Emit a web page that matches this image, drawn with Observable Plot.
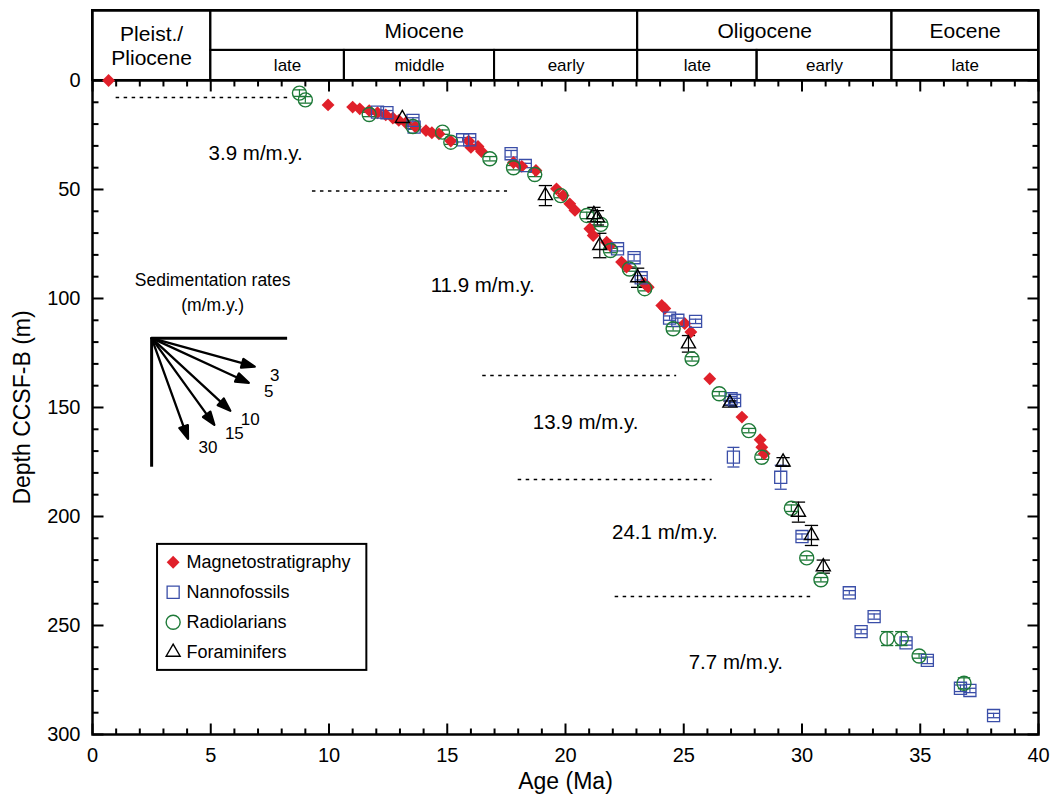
<!DOCTYPE html>
<html>
<head>
<meta charset="utf-8">
<script src="https://cdn.jsdelivr.net/npm/d3@7"></script>
<script src="https://cdn.jsdelivr.net/npm/@observablehq/plot@0.6"></script>
<style>
  body { margin: 0; background: #fff; }
</style>
</head>
<body>
<div id="chart"></div>
<script>
// ---------------- DATA ----------------
// Magnetostratigraphy (age Ma, depth m)
const magAge   = [0.68, 9.96, 11.0, 11.3, 11.7, 12.05, 12.4, 12.7, 12.95, 13.25, 13.65, 14.1, 14.35, 14.65, 15.15, 15.9, 16.0, 16.3, 16.45, 17.8, 18.15, 18.75, 19.62, 19.9, 20.18, 20.4, 21.03, 21.17, 21.74, 21.88, 22.37, 22.58, 23.34, 23.5, 24.07, 24.2, 25.04, 25.3, 26.1, 27.46, 28.23, 28.3, 28.4];
const magDepth = [0, 11.2, 12.2, 13.0, 13.8, 14.8, 15.8, 17.2, 18.3, 19.4, 21.2, 23.0, 24.0, 24.5, 27.8, 27.8, 30.7, 30.3, 32.6, 37.6, 39.4, 41.3, 49.7, 52.8, 56.6, 59.6, 68.0, 71.1, 74.2, 75.7, 83.3, 85.6, 93.1, 94.8, 103.2, 104.6, 111.5, 115.4, 136.8, 154.4, 164.8, 168.2, 171.2];

// Nannofossils (age, depth, depth error)
const nanAge   = [12.05, 12.45, 13.55, 13.6, 15.65, 15.95, 17.7, 18.3, 22.2, 22.9, 23.2, 24.4, 24.75, 25.5, 27.0, 27.15, 27.1, 29.1, 30.0, 32.0, 32.5, 33.05, 34.4, 35.3, 36.7, 37.1, 38.1];
const nanDepth = [14.5, 14.8, 18.3, 21.4, 27.2, 27.2, 33.6, 39.0, 77.2, 81.3, 90.5, 109.0, 110.0, 110.5, 146.0, 146.8, 172.8, 182.0, 209.2, 235.0, 252.8, 245.9, 258.0, 266.0, 278.8, 279.8, 291.3];
const nanErr   = [1, 1, 1.2, 1, 1, 1, 1.5, 1, 1, 1.5, 1, 1, 1, 1, 1, 1, 4.5, 5.5, 1.2, 1, 1, 1.2, 1, 1.5, 1.5, 1, 1];

// Radiolarians
const radAge   = [8.75, 9.0, 11.7, 13.55, 14.8, 15.15, 16.8, 17.8, 18.7, 19.8, 20.9, 21.5, 21.9, 22.7, 23.35, 24.55, 25.35, 26.5, 27.75, 28.3, 29.55, 30.2, 30.8, 33.6, 34.2, 34.95, 36.85];
const radDepth = [5.8, 8.9, 15.6, 21.1, 23.7, 28.3, 35.9, 40.0, 43.1, 52.8, 61.9, 66.0, 78.0, 86.5, 95.5, 113.9, 127.7, 143.7, 160.6, 172.8, 196.2, 219.0, 229.0, 256.0, 256.0, 264.0, 276.5];
const radErr   = [1.5, 1.5, 1, 1, 1, 1, 1, 1, 1, 1, 1.5, 1, 1, 1, 1, 1, 1, 1, 1, 1, 1.5, 1, 1, 3.2, 3.2, 1, 2.5];

// Foraminifers
const forAge   = [13.1, 19.15, 21.2, 21.35, 21.45, 23.05, 25.2, 26.95, 29.2, 29.85, 30.4, 30.9];
const forDepth = [17.4, 52.8, 61.5, 63.0, 75.7, 90.5, 120.8, 148.0, 175.0, 198.0, 208.7, 223.0];
const forErr   = [0, 4.6, 3.3, 3.3, 5.6, 4.4, 3.8, 1, 2, 4.6, 4.6, 3];

// Sedimentation-rate segments (dashed) and labels
const segDepth = [7.8, 50.7, 135.3, 183.0, 236.7];
const segStart = [1.0, 9.3, 16.5, 18.0, 22.1];
const segEnd   = [8.4, 17.55, 24.7, 26.2, 30.4];
const rateText  = ["3.9 m/m.y.", "11.9 m/m.y.", "13.9 m/m.y.", "24.1 m/m.y.", "7.7 m/m.y."];
const rateAge   = [6.9, 16.5, 20.85, 24.2, 27.2];
const rateDepth = [33.5, 94.0, 156.9, 207.3, 267.0];

// Inset rates (m/m.y.)
const insetRates = [3, 5, 10, 15, 30];

// Time scale header
const epochNames = ["Pleist./\nPliocene", "Miocene", "Oligocene", "Eocene"];
const epochStart = [0, 5.0, 23.05, 33.8];
const epochEnd   = [5.0, 23.05, 33.8, 40];
const subNames = ["late", "middle", "early", "late", "early", "late"];
const subStart = [5.0, 10.65, 17.0, 23.05, 28.1, 33.8];
const subEnd   = [10.65, 17.0, 23.05, 28.1, 33.8, 40];

// Axes
const xTicks = [0, 5, 10, 15, 20, 25, 30, 35, 40];
const yTicks = [0, 50, 100, 150, 200, 250, 300];
const legendLabels = ["Magnetostratigraphy", "Nannofossils", "Radiolarians", "Foraminifers"];

// ---------------- LAYOUT ----------------
const W = 1050, H = 803;
const mTop = 10, mLeft = 92, mRight = 12, mBottom = 69;
const yMin = -32.1;       // header band above depth 0
const rowSplit = -13.8;   // header row divider
const kx = (W - mLeft - mRight) / 40;          // px per Ma
const ky = (H - mTop - mBottom) / (300 - yMin); // px per m

const mag = magAge.map((a, i) => ({age: a, depth: magDepth[i]}));
const nan = nanAge.map((a, i) => ({age: a, depth: nanDepth[i], err: nanErr[i]}));
const rad = radAge.map((a, i) => ({age: a, depth: radDepth[i], err: radErr[i]}));
const frm = forAge.map((a, i) => ({age: a, depth: forDepth[i], err: forErr[i]}));
const segs = segDepth.map((d, i) => ({depth: d, a1: segStart[i], a2: segEnd[i]}));
const rates = rateText.map((t, i) => ({t, age: rateAge[i], depth: rateDepth[i]}));
const epochs = epochNames.map((n, i) => ({name: n, start: epochStart[i], end: epochEnd[i]}));
const subs = subNames.map((n, i) => ({name: n, start: subStart[i], end: subEnd[i]}));

const RED = "#e0202a", BLUE = "#3a4ea8", GREEN = "#1e7a38", BLACK = "#000";
const series = [
  {key: "mag", symbol: "diamond2", r: 5.8, fill: RED, stroke: "none", sw: 0},
  {key: "nan", symbol: "square", r: 6.8, fill: "none", stroke: BLUE, sw: 1.3},
  {key: "rad", symbol: "circle", r: 7, fill: "none", stroke: GREEN, sw: 1.4},
  {key: "for", symbol: "triangle", r: 5.2, fill: "none", stroke: BLACK, sw: 1.4}
];

// custom shapes
const tickLine = {draw(ctx, l) { ctx.moveTo(0, 0); ctx.lineTo(0, -l); }};
const arrowShape = {draw(ctx, l) {
  const h = 13, w = 4.5;
  ctx.moveTo(0, 0); ctx.lineTo(0, -(l - h));
  ctx.moveTo(0, -l); ctx.lineTo(-w, -(l - h)); ctx.lineTo(w, -(l - h)); ctx.closePath();
}};
const capSymbol = {draw(ctx, size) { const w = Math.sqrt(size) / 2; ctx.moveTo(-w, 0); ctx.lineTo(w, 0); }};

function errMarks(data, color, capR) {
  const d = data.filter(p => p.err > 0);
  return [
    Plot.ruleX(d, {x: "age", y1: p => p.depth - p.err, y2: p => p.depth + p.err, stroke: color, strokeWidth: 1.2}),
    Plot.dot(d, {x: "age", y: p => p.depth - p.err, symbol: capSymbol, r: capR, fill: "none", stroke: color, strokeWidth: 1.3}),
    Plot.dot(d, {x: "age", y: p => p.depth + p.err, symbol: capSymbol, r: capR, fill: "none", stroke: color, strokeWidth: 1.3})
  ];
}

// inset geometry
const inset = {age: 2.5, depth: 118.2, xEnd: 8.25, yEnd: 177.4, len: 107};
const insetTips = insetRates.map(r => {
  const phi = Math.atan(r * ky / kx);
  return {r, rot: 90 + phi * 180 / Math.PI,
    age: inset.age + inset.len * Math.cos(phi) / kx,
    depth: inset.depth + inset.len * Math.sin(phi) / ky};
});

// legend geometry
const leg = {x1: 2.75, x2: 11.6, y1: 212.8, y2: 270.6, symX: 3.41, txtX: 3.97, row0: 221, step: 13.75};

const FONT = "'Liberation Sans', Arial, Helvetica, sans-serif";

const yMinor = d3.range(0, 301, 10);
const xMinor = d3.range(0, 41, 1);

const tickStyle = {anchor: "start", shape: tickLine, stroke: BLACK, strokeWidth: 2, strokeLinecap: "butt"};

const chart = Plot.plot({
  width: W, height: H,
  marginTop: mTop, marginLeft: mLeft, marginRight: mRight, marginBottom: mBottom,
  style: {fontFamily: FONT, fontSize: "18px", color: "black", background: "white"},
  x: {domain: [0, 40]},
  y: {domain: [yMin, 300], reverse: true},
  marks: [
    // axes labels
    Plot.axisX({anchor: "bottom", ticks: xTicks, tickSize: 0, tickPadding: 13, fontSize: 20, label: null}),
    Plot.axisY({anchor: "left", ticks: yTicks, tickSize: 0, tickPadding: 12, fontSize: 20, label: null}),
    Plot.text(["Age (Ma)"], {frameAnchor: "bottom", dy: 54, fontSize: 23}),
    Plot.text(["Depth CCSF-B (m)"], {x: 0, y: 150, dx: -70, rotate: -90, fontSize: 23}),

    // ticks (inward)
    Plot.vector(xMinor.filter(d => d % 5), {x: d => d, y: () => 300, rotate: 0, length: 6, ...tickStyle}),
    Plot.vector(xTicks, {x: d => d, y: () => 300, rotate: 0, length: 11, ...tickStyle}),
    Plot.vector(xMinor.filter(d => d % 5), {x: d => d, y: () => 0, rotate: 180, length: 6, ...tickStyle}),
    Plot.vector(xTicks, {x: d => d, y: () => 0, rotate: 180, length: 11, ...tickStyle}),
    Plot.vector(yMinor.filter(d => d % 50), {x: () => 0, y: d => d, rotate: 90, length: 6, ...tickStyle}),
    Plot.vector(yTicks, {x: () => 0, y: d => d, rotate: 90, length: 11, ...tickStyle}),
    Plot.vector(yMinor.filter(d => d % 50), {x: () => 40, y: d => d, rotate: 270, length: 6, ...tickStyle}),
    Plot.vector(yTicks, {x: () => 40, y: d => d, rotate: 270, length: 11, ...tickStyle}),

    // header (time scale)
    Plot.rect(epochs, {x1: "start", x2: "end", y1: () => yMin, y2: d => d.name.includes("\n") ? 0 : rowSplit, fill: "none", stroke: BLACK, strokeWidth: 2}),
    Plot.rect(subs, {x1: "start", x2: "end", y1: () => rowSplit, y2: () => 0, fill: "none", stroke: BLACK, strokeWidth: 2}),
    Plot.text(epochs, {x: d => (d.start + d.end) / 2, y: d => d.name.includes("\n") ? yMin / 2 : (yMin + rowSplit) / 2, text: "name", fontSize: 21, lineHeight: 1.15}),
    Plot.text(subs.slice(0, 1), {x: d => (d.start + d.end) / 2, y: () => rowSplit / 2, dx: 10, text: "name", fontSize: 17}),
    Plot.text(subs.slice(1), {x: d => (d.start + d.end) / 2, y: () => rowSplit / 2, text: "name", fontSize: 17}),

    // frame & top axis line
    Plot.frame({stroke: BLACK, strokeWidth: 2.5}),
    Plot.ruleY([0], {stroke: BLACK, strokeWidth: 2.5}),

    // dashed rate segments and labels
    Plot.ruleY(segs, {y: "depth", x1: "a1", x2: "a2", stroke: BLACK, strokeWidth: 1.5, strokeDasharray: "3.5,4.5"}),
    Plot.text(rates, {x: "age", y: "depth", text: "t", fontSize: 20.5}),

    // inset: sedimentation-rate key
    Plot.text(["Sedimentation rates\n(m/m.y.)"], {x: 5.08, y: 96.2, fontSize: 17.5, lineHeight: 1.43}),
    Plot.ruleY([inset.depth], {x1: inset.age, x2: inset.xEnd, stroke: BLACK, strokeWidth: 3}),
    Plot.ruleX([inset.age], {y1: inset.depth, y2: inset.yEnd, stroke: BLACK, strokeWidth: 3}),
    Plot.vector(insetTips, {x: () => inset.age, y: () => inset.depth, rotate: "rot", length: inset.len, anchor: "start", shape: arrowShape, stroke: BLACK, fill: BLACK, strokeWidth: 2.3}),
    Plot.text(insetTips, {x: "age", y: "depth", text: d => String(d.r), dx: 20, dy: 9, fontSize: 17}),

    // data: error bars then symbols
    ...errMarks(nan, BLUE, 6.8),
    ...errMarks(rad, GREEN, 7),
    ...errMarks(frm, BLACK, 7.5),
    Plot.dot(mag, {x: "age", y: "depth", symbol: "diamond2", r: 5.8, fill: RED, stroke: "none"}),
    Plot.dot(nan, {x: "age", y: "depth", symbol: "square", r: 6.8, fill: "none", stroke: BLUE, strokeWidth: 1.3}),
    Plot.dot(rad, {x: "age", y: "depth", symbol: "circle", r: 7, fill: "none", stroke: GREEN, strokeWidth: 1.4}),
    Plot.dot(frm, {x: "age", y: "depth", symbol: "triangle", r: 5.2, fill: "none", stroke: BLACK, strokeWidth: 1.4}),

    // legend box inside plot
    Plot.rect([0], {x1: () => leg.x1, x2: () => leg.x2, y1: () => leg.y1, y2: () => leg.y2, fill: "white", stroke: BLACK, strokeWidth: 2}),
    ...series.map((s, i) => Plot.dot([i], {x: () => leg.symX, y: () => leg.row0 + i * leg.step, symbol: s.symbol, r: s.r, fill: s.fill, stroke: s.stroke, strokeWidth: s.sw})),
    Plot.text(legendLabels, {x: () => leg.txtX, y: (d, i) => leg.row0 + i * leg.step, text: d => d, textAnchor: "start", fontSize: 18})
  ]
});

document.getElementById("chart").appendChild(chart);
</script>
</body>
</html>
